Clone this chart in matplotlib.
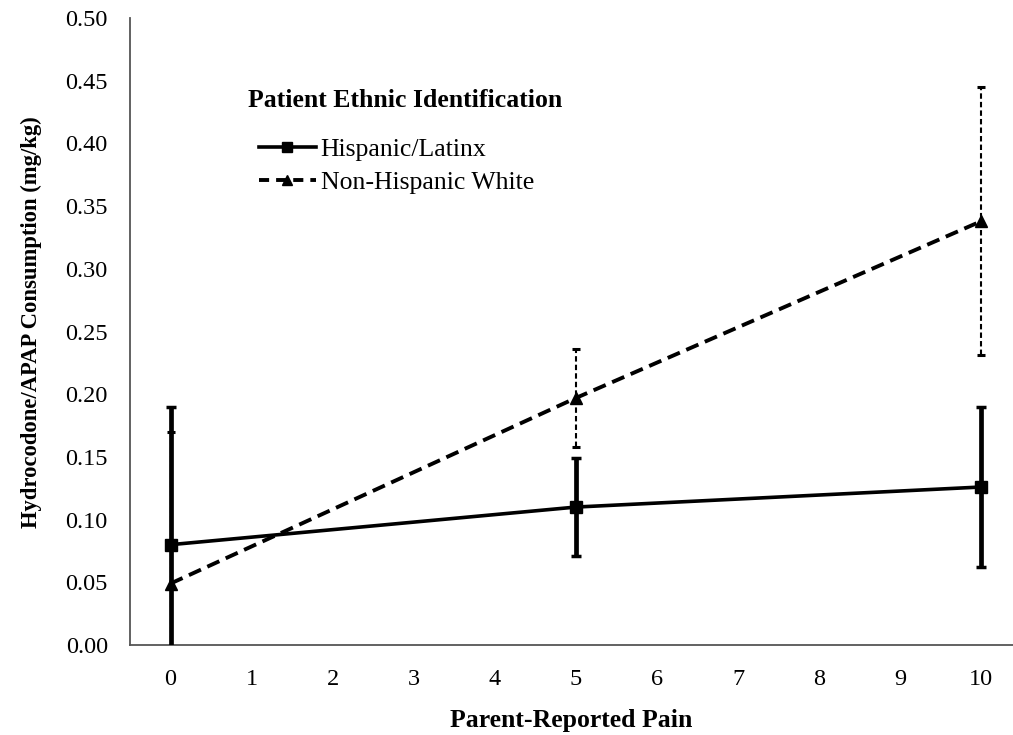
import matplotlib
matplotlib.use("Agg")
import matplotlib.pyplot as plt
from matplotlib.lines import Line2D

pain = [0, 5, 10]
hisp_mean = [0.080, 0.110, 0.126]
hisp_err = [0.110, 0.039, 0.064]
nhw_mean = [0.049, 0.197, 0.338]
nhw_err = [0.121, 0.039, 0.107]
xticks = list(range(0, 11))
yticks = [0.00, 0.05, 0.10, 0.15, 0.20, 0.25, 0.30, 0.35, 0.40, 0.45, 0.50]

plt.rcParams['font.family'] = ['Liberation Serif', 'DejaVu Serif']

fig = plt.figure(figsize=(10.13, 7.35), dpi=100)
ax = fig.add_axes([130/1013, 1-645/735, (1013-130)/1013, (645-18)/735])

# Hispanic error bars (thick solid)
ax.errorbar(pain, hisp_mean, yerr=hisp_err, fmt='none', ecolor='black',
            elinewidth=3.4, capsize=3.5, capthick=2.5, zorder=3)
# NHW error bars (thin dashed)
eb2 = ax.errorbar(pain, nhw_mean, yerr=nhw_err, fmt='none', ecolor='black',
                  elinewidth=1.5, capsize=2.8, capthick=2.2, zorder=3)
for lc in eb2[2]:
    lc.set_linestyle((0, (2.6, 1.5)))

ax.plot(pain, hisp_mean, color='black', lw=2.6, marker='s', markersize=8, zorder=4)
ax.plot(pain, nhw_mean, color='black', lw=2.8, dashes=(3.4, 1.8), marker='^', markersize=8, zorder=4)

ax.set_xlim(-0.5, 10.39)
ax.set_ylim(0, 0.5)
ax.set_xticks(xticks)
ax.set_yticks(yticks)
ax.set_yticklabels([f"{v:.2f}" for v in yticks])
ax.tick_params(axis='both', length=0, labelsize=17.5)
ax.tick_params(axis='y', pad=16)
ax.tick_params(axis='x', pad=17.5)
for s in ['top', 'right']:
    ax.spines[s].set_visible(False)
for s in ['left', 'bottom']:
    ax.spines[s].set_linewidth(1.3)
    ax.spines[s].set_color('#555555')

ax.set_xlabel('Parent-Reported Pain', fontsize=18.5, fontweight='bold', labelpad=13.5)
ax.set_ylabel('Hydrocodone/APAP Consumption (mg/kg)', fontsize=16.3, fontweight='bold',
              labelpad=17, y=0.515)

ax.text(0.1336, 0.869, 'Patient Ethnic Identification', transform=ax.transAxes,
        fontsize=18.5, fontweight='bold', ha='left', va='center')

handles = [
    Line2D([], [], color='black', lw=2.6, marker='s', markersize=7),
    Line2D([], [], color='black', lw=2.8, dashes=(2.6, 1.8), marker='^', markersize=7),
]
leg = ax.legend(handles, ['Hispanic/Latinx', 'Non-Hispanic White'], frameon=False,
                fontsize=18.5, loc='upper left', bbox_to_anchor=(0.1461, 0.808),
                handlelength=2.2, handletextpad=0.2, labelspacing=0.38, borderpad=0,
                borderaxespad=0)

fig.savefig('out.png', dpi=100)
